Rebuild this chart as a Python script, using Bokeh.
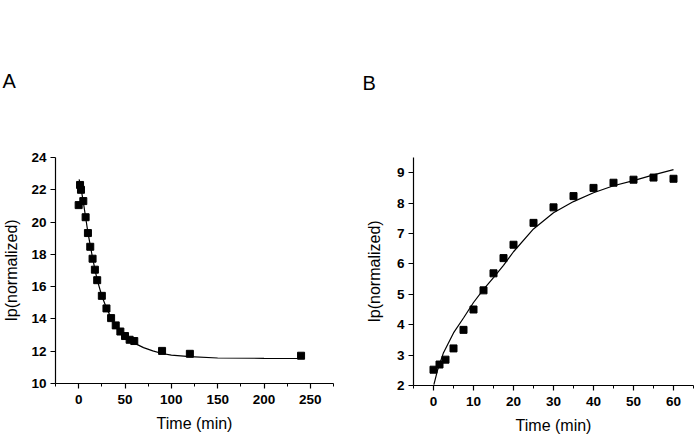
from bokeh.plotting import figure
from bokeh.layouts import row
from bokeh.models import Range1d, SingleIntervalTicker
from bokeh.embed import file_html
from bokeh.resources import INLINE

# Panel A: decay of normalized peak current
a_time = [0, 1.5, 2.5, 5, 7.5, 10, 12.5, 15, 17.5, 20, 25, 30, 35, 40, 45, 50, 55, 60, 90, 120, 240]
a_ip = [21.05, 22.3, 22.0, 21.3, 20.3, 19.32, 18.47, 17.73, 17.05, 16.4, 15.43, 14.65, 14.05,
        13.6, 13.22, 12.94, 12.71, 12.63, 12.02, 11.84, 11.72]
a_fit_time = [0.5, 2.5, 5, 7.5, 10, 12.5, 15, 17.5, 20, 25, 30, 35, 40, 45, 50, 55, 60, 70, 80,
              90, 100, 120, 150, 200, 240]
a_fit_ip = [22.65, 22.1, 21.25, 20.3, 19.35, 18.55, 17.78, 17.08, 16.42, 15.42, 14.68, 14.08,
            13.6, 13.22, 12.92, 12.7, 12.5, 12.22, 12.02, 11.86, 11.76, 11.66, 11.58, 11.56, 11.55]

# Panel B: recovery of normalized peak current
b_time = [0, 1.5, 3, 5, 7.5, 10, 12.5, 15, 17.5, 20, 25, 30, 35, 40, 45, 50, 55, 60]
b_ip = [2.52, 2.69, 2.85, 3.22, 3.83, 4.5, 5.13, 5.69, 6.19, 6.63, 7.35, 7.86, 8.23, 8.5, 8.67,
        8.77, 8.84, 8.8]
b_fit_time = [0.1, 1, 2.5, 5, 7.5, 10, 12.5, 15, 17.5, 20, 25, 30, 35, 40, 45, 50, 55, 60]
b_fit_ip = [2.03, 2.5, 3.08, 3.73, 4.22, 4.73, 5.16, 5.55, 5.95, 6.4, 7.15, 7.68, 8.05, 8.34,
            8.57, 8.74, 8.93, 9.1]

FONT = "Liberation Sans"


def panel(letter, width, left, right, top, frame_h, xr, yr, x_step, y_step, ylabel_standoff,
          letter_offset, letter_standoff):
    p = figure(width=width, height=438, output_backend="svg", toolbar_location=None,
               x_range=Range1d(*xr), y_range=Range1d(*yr),
               min_border_left=left, min_border_right=right,
               min_border_top=top, min_border_bottom=438 - top - frame_h,
               frame_width=width - left - right, frame_height=frame_h)
    # panel letter drawn as a left-aligned title well above the frame
    p.title.text = letter
    p.title.align = "left"
    p.title.offset = letter_offset
    p.title.standoff = letter_standoff
    p.title.text_font = FONT
    p.title.text_font_size = "20px"
    p.title.text_font_style = "normal"
    p.title.text_color = "black"
    p.outline_line_color = None
    p.xgrid.visible = False
    p.ygrid.visible = False
    p.background_fill_color = "white"
    p.border_fill_color = "white"
    p.xaxis.ticker = SingleIntervalTicker(interval=x_step, num_minor_ticks=2)
    p.yaxis.ticker = SingleIntervalTicker(interval=y_step, num_minor_ticks=0)
    for ax in (p.xaxis[0], p.yaxis[0]):
        ax.axis_line_color = "black"
        ax.axis_line_width = 1.2
        ax.major_tick_in = 0
        ax.major_tick_out = 5
        ax.major_tick_line_color = "black"
        ax.major_tick_line_width = 1.2
        ax.minor_tick_in = 0
        ax.minor_tick_out = 3
        ax.minor_tick_line_color = "black"
        ax.major_label_text_font = FONT
        ax.major_label_text_font_size = "13.5px"
        ax.major_label_text_font_style = "bold"
        ax.major_label_text_color = "black"
        ax.axis_label_text_font = FONT
        ax.axis_label_text_font_size = "16px"
        ax.axis_label_text_font_style = "normal"
        ax.axis_label_text_color = "black"
    p.yaxis.minor_tick_line_color = None
    p.xaxis.major_label_standoff = 6
    p.yaxis.major_label_standoff = 4
    p.xaxis.axis_label_standoff = 8
    p.yaxis.axis_label_standoff = ylabel_standoff
    p.xaxis.axis_label = "Time (min)"
    p.yaxis.axis_label = "Ip(normalized)"
    return p


pa = panel("A", 350, 55, 17, 157, 226, (-25, 275), (10, 24), 50, 2, 8, -53, 132)
pa.line(a_fit_time, a_fit_ip, line_color="black", line_width=1.2)
pa.scatter(a_time, a_ip, marker="square", size=7, fill_color="black", line_color="black")

pb = panel("B", 349, 63, 6, 155, 228, (-5, 65), (2, 9.5), 10, 1, 11, -51, 128)
pb.line(b_fit_time, b_fit_ip, line_color="black", line_width=1.2)
pb.scatter(b_time, b_ip, marker="square", size=7, fill_color="black", line_color="black")

layout = row(pa, pb)
open("out.html", "w").write(file_html(layout, INLINE))
